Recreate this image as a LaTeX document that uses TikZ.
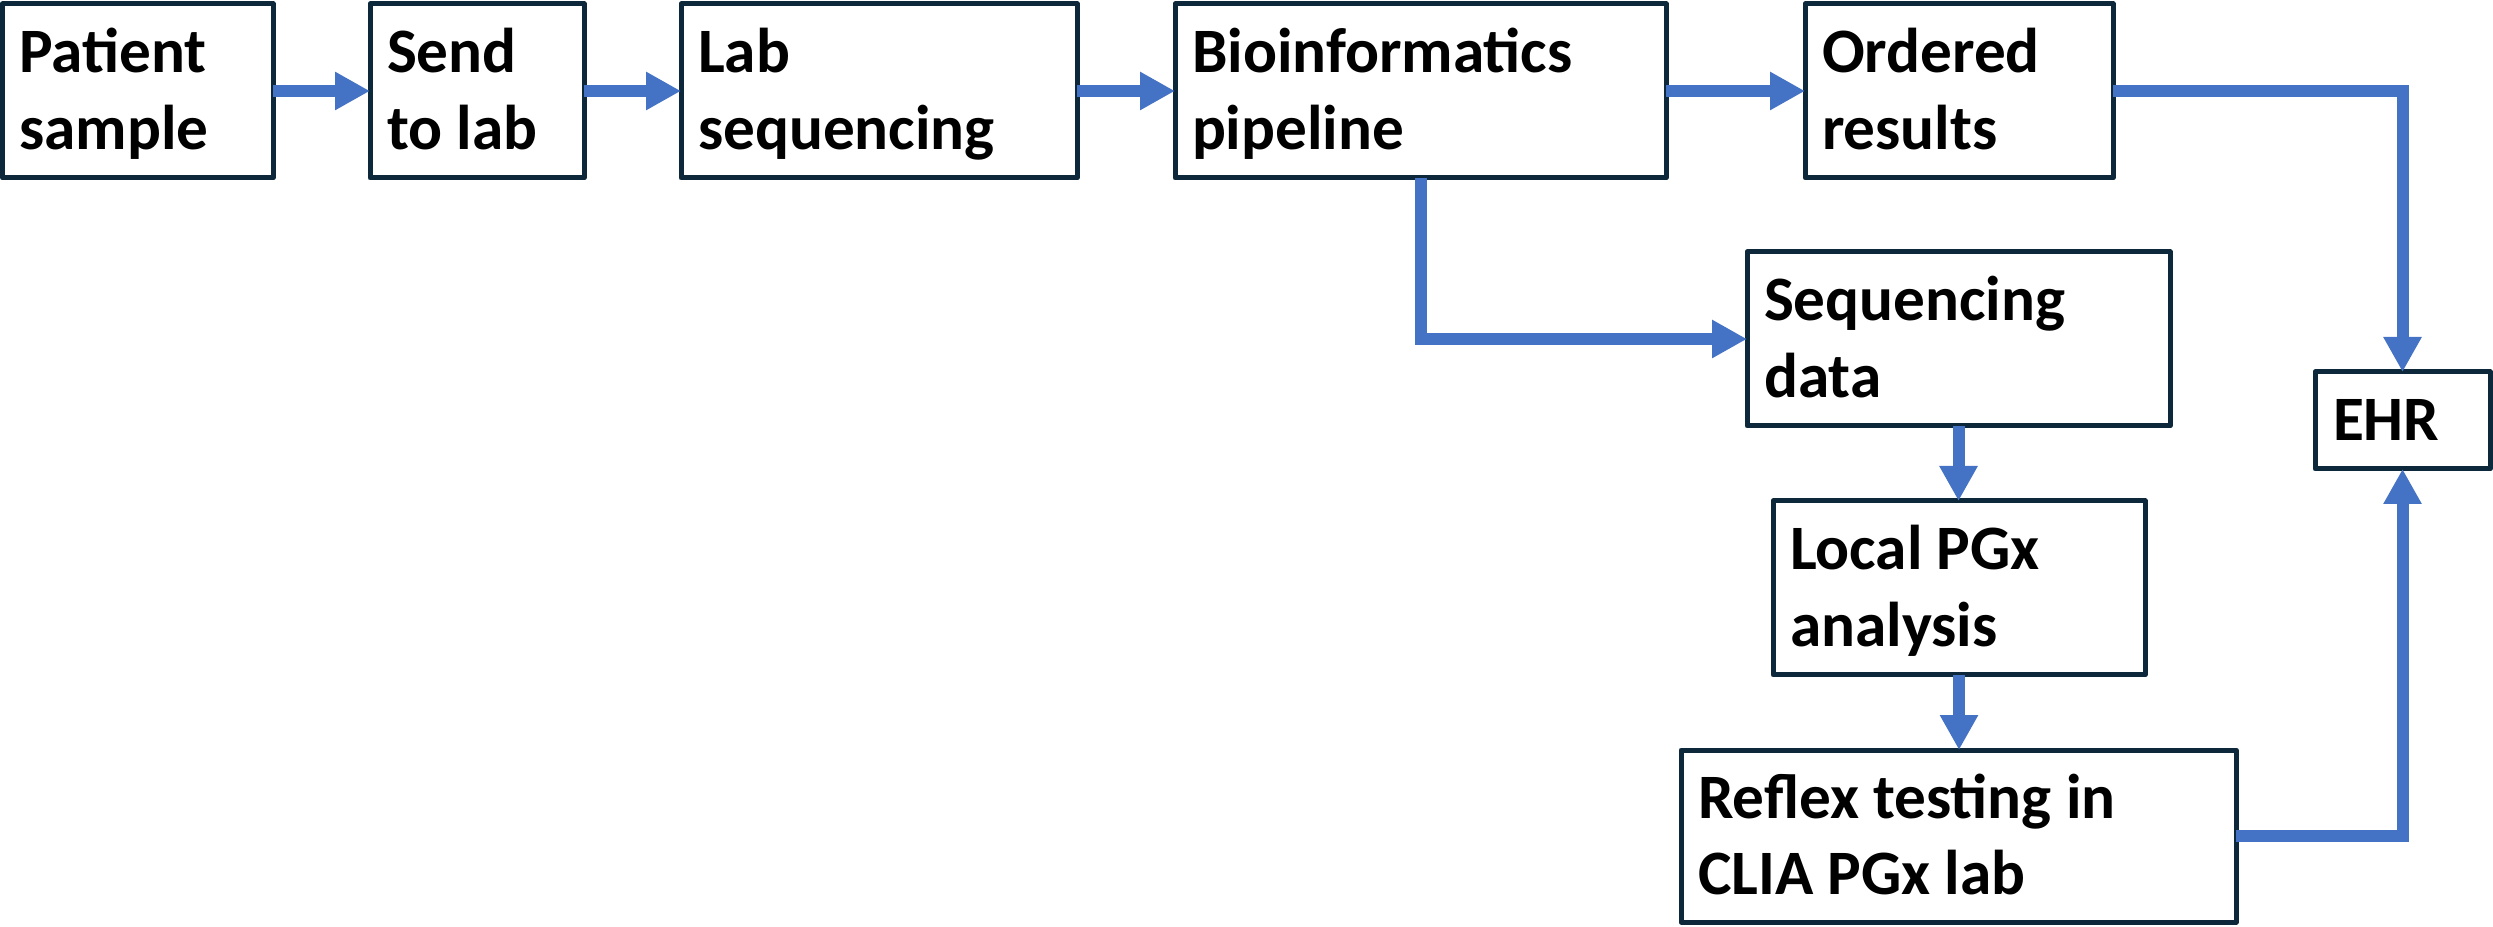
\documentclass[tikz,border=0pt]{standalone}
\usepackage{fontspec}
\setmainfont{Carlito}
\usetikzlibrary{arrows.meta,calc}
\definecolor{boxline}{HTML}{0C283A}
\definecolor{flow}{HTML}{4472C4}
\begin{document}
\begin{tikzpicture}[x=0.1mm,y=-0.1mm,
  box/.style={rectangle, draw=boxline, line width=0.5mm, line join=round, fill=white, inner sep=0pt, outer sep=0pt},
  lbl/.style={anchor=base west, inner sep=0pt, outer sep=0pt, font=\bfseries\fontsize{18pt}{21.9pt}\selectfont},
  flowline/.style={draw=flow, line width=1.2mm, -{Triangle[length=3.5mm,width=3.6mm]}}]
\useasboundingbox (0,0) rectangle (2493,927);
% boxes
\node[box, minimum width=27.05mm, minimum height=17.4mm] (pat) at (137.75,91) {};
\node[box, minimum width=21.4mm, minimum height=17.4mm] (send) at (477,91) {};
\node[box, minimum width=39.6mm, minimum height=17.4mm] (lab) at (879,91) {};
\node[box, minimum width=49.1mm, minimum height=17.4mm] (bio) at (1420.5,91) {};
\node[box, minimum width=30.8mm, minimum height=17.4mm] (ord) at (1959,91) {};
\node[box, minimum width=42.3mm, minimum height=17.4mm] (seq) at (1958.5,339) {};
\node[box, minimum width=17.5mm, minimum height=9.7mm] (ehr) at (2402.5,420.5) {};
\node[box, minimum width=37.2mm, minimum height=17.4mm] (loc) at (1959,588) {};
\node[box, minimum width=55.5mm, minimum height=17.2mm] (ref) at (1958.5,836) {};
% labels
\node[lbl] (patT) at ($(pat.north west)+(17,69)$) {\begin{tabular}[t]{@{}l@{}}Patient\\sample\end{tabular}};
\node[lbl] (sendT) at ($(send.north west)+(17,69)$) {\begin{tabular}[t]{@{}l@{}}Send\\to lab\end{tabular}};
\node[lbl] (labT) at ($(lab.north west)+(17,69)$) {\begin{tabular}[t]{@{}l@{}}Lab\\sequencing\end{tabular}};
\node[lbl] (bioT) at ($(bio.north west)+(17,69)$) {\begin{tabular}[t]{@{}l@{}}Bioinformatics\\pipeline\end{tabular}};
\node[lbl] (ordT) at ($(ord.north west)+(17,69)$) {\begin{tabular}[t]{@{}l@{}}Ordered\\results\end{tabular}};
\node[lbl] (seqT) at ($(seq.north west)+(17,69)$) {\begin{tabular}[t]{@{}l@{}}Sequencing\\data\end{tabular}};
\node[lbl] (ehrT) at ($(ehr.north west)+(18,69)$) {EHR};
\node[lbl] (locT) at ($(loc.north west)+(17,69)$) {\begin{tabular}[t]{@{}l@{}}Local PGx\\analysis\end{tabular}};
\node[lbl] (refT) at ($(ref.north west)+(17,68)$) {\begin{tabular}[t]{@{}l@{}}Reflex testing in\\CLIA PGx lab\end{tabular}};
% connectors
\draw[flowline] (pat.east) -- (send.west);
\draw[flowline] (send.east) -- (lab.west);
\draw[flowline] (lab.east) -- (bio.west);
\draw[flowline] (bio.east) -- (ord.west);
\draw[flowline] (bio.south) |- (seq.west);
\draw[flowline] (ord.east) -| (ehr.north);
\draw[flowline] (seq.south) -- (seq.south |- loc.north);
\draw[flowline] (loc.south) -- (loc.south |- ref.north);
\draw[flowline] (ref.east) -| (ehr.south);
\end{tikzpicture}
\end{document}
